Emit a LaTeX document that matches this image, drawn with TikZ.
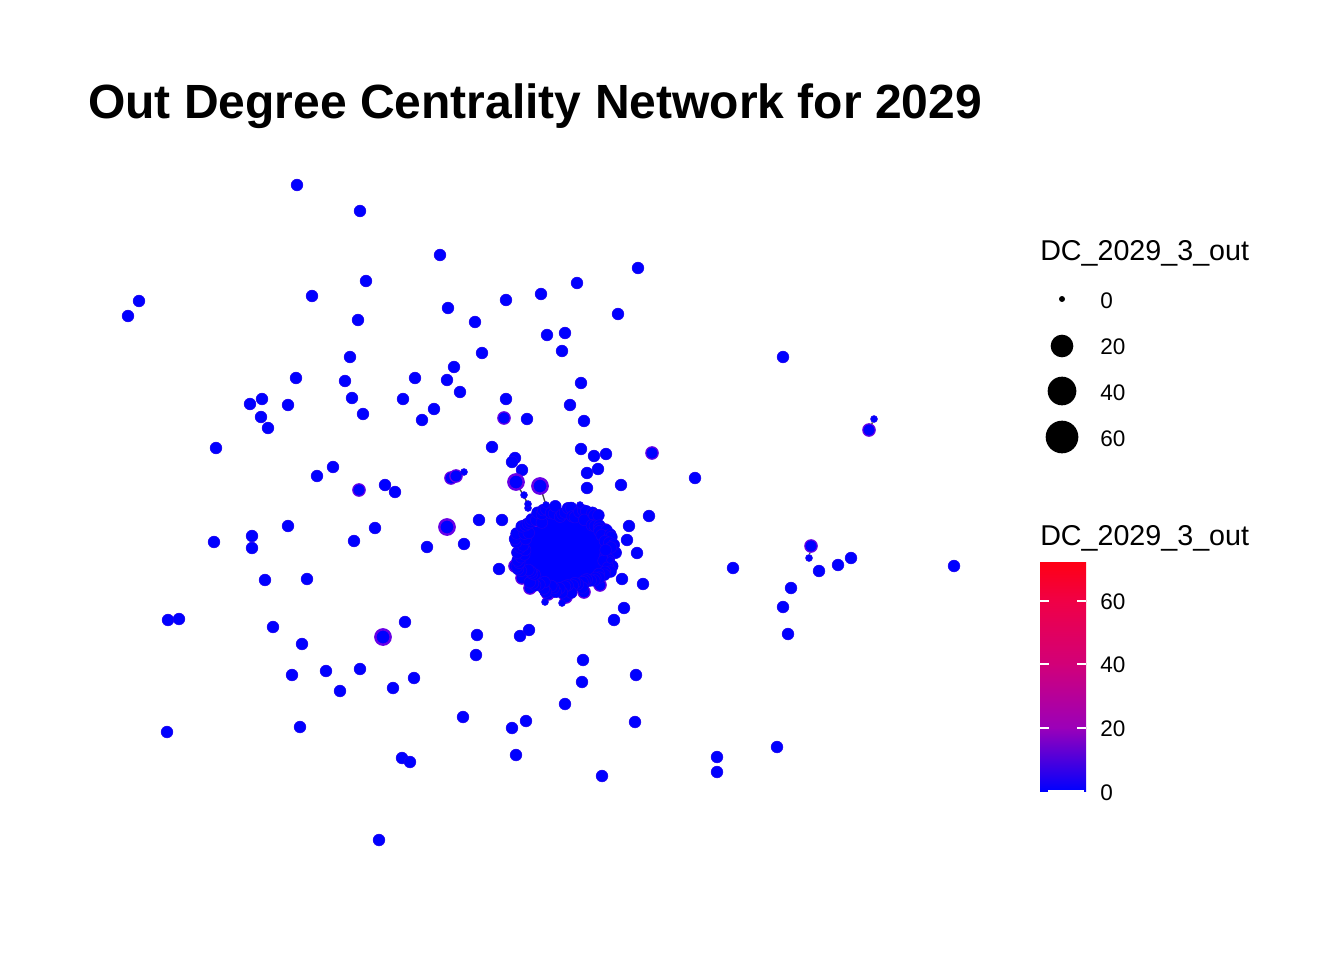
\documentclass[tikz,border=0pt]{standalone}
\usepackage{fontspec}
\setmainfont{Liberation Sans}
\begin{document}
\begin{tikzpicture}[x=0.75pt,y=-0.75pt]
\definecolor{nb}{RGB}{0,0,255}
\definecolor{nbe}{RGB}{30,0,240}
\definecolor{np}{RGB}{105,0,230}
\definecolor{edgec}{RGB}{70,70,70}
\tikzset{
  nd/.style={circle,fill=nb,draw=nbe,line width=0.4pt,inner sep=0pt,minimum size=8.8pt},
  ndt/.style={nd,draw=np,line width=0.9pt,minimum size=9.3pt},
  ndp/.style={nd,draw=np,line width=1.8pt,minimum size=11.5pt},
  nds/.style={nd,minimum size=5.2pt},
  lnk/.style={draw=edgec,line width=1pt},
  lgd/.style={circle,fill=black,inner sep=0pt},
  lbl/.style={anchor=base west,font=\fontsize{16.9pt}{18pt}\selectfont,inner sep=0pt},
  ttl/.style={anchor=base west,font=\fontsize{21.5pt}{24pt}\selectfont,inner sep=0pt},
  tick/.style={draw=white,line width=0.8pt}
}
\useasboundingbox (0,0) rectangle (1344,960);
\fill[white] (0,0) rectangle (1344,960);

% title
\node[anchor=base west,font=\fontsize{36pt}{40pt}\selectfont\bfseries,inner sep=0pt] (title) at (88,118) {Out Degree Centrality Network for 2029};

% edges (drawn under nodes)
\coordinate (c1) at (528,504);
\coordinate (c2) at (546,505);
\coordinate (p1) at (516,482);
\coordinate (p2) at (540,486);
\draw[lnk] (p1) -- (c1);
\draw[lnk] (p2) -- (c2);

% central cluster
\fill[nb] (565,550) ellipse [x radius=50, y radius=42];
\pgfmathsetseed{7}
\foreach \x/\y [count=\i] in {530/588,548/594,566/597,522/578,584/592,515/566,600/585,536/520,590/516,605/530}
  \node[ndt] (kp\i) at (\x,\y) {};
\foreach \i in {1,...,100}{
  \pgfmathsetmacro\a{\i*3.6}
  \pgfmathsetmacro\r{0.78+0.27*rnd}
  \node[nd] (k\i) at ({565+50*\r*cos(\a)},{550+43*\r*sin(\a)}) {};
}
\foreach \x/\y [count=\i] in {545/602,562/603,528/508,580/505,610/560}
  \node[nds] (ks\i) at (\x,\y) {};
\node[nds] (kc1) at (c1) {};
\node[nds] (kc2) at (c2) {};

% blue nodes
\foreach \x/\y [count=\i] in {
297/185,360/211,440/255,638/268,577/283,541/294,506/300,366/281,312/296,448/308,
475/322,618/314,358/320,547/335,565/333,562/351,482/353,350/357,783/357,139/301,
128/316,296/378,345/381,415/378,454/367,447/380,460/392,403/399,352/398,581/383,
506/399,570/405,262/399,250/404,288/405,261/417,268/428,363/414,434/409,422/420,
527/419,584/421,216/448,492/447,581/449,606/454,594/456,515/458,598/469,587/473,
333/467,317/476,695/478,385/485,395/492,587/488,621/485,649/516,288/526,375/528,
479/520,502/520,629/526,252/536,214/542,354/541,252/548,427/547,464/544,627/540,
637/553,499/569,265/580,307/579,733/568,622/579,643/584,851/558,838/565,
819/571,954/566,791/588,168/620,179/619,273/627,405/622,302/644,477/635,476/655,
520/636,529/630,614/620,624/608,783/607,788/634,292/675,326/671,360/669,340/691,
393/688,414/678,583/660,582/682,636/675,565/704,463/717,512/728,526/721,635/722,
167/732,300/727,402/758,410/762,516/755,602/776,717/757,717/772,777/747,379/840,
512/462,522/470}
  \node[nd] (b\i) at (\x,\y) {};

% tinted nodes
\foreach \x/\y [count=\i] in {504/418,359/490,652/453,451/478,456/476}
  \node[ndt] (t\i) at (\x,\y) {};
\node[ndt] (m1) at (869,430) {};
\node[ndt] (m2) at (811,546) {};

% purple-ringed nodes
\node[ndp] (q1) at (447,527) {};
\node[ndp] (q2) at (383,637) {};
\node[ndp] (q3) at (p1) {};
\node[ndp] (q4) at (p2) {};

% small nodes with links
\node[nds] (s1) at (874,419) {};
\node[nds] (s2) at (809,558) {};
\node[nds] (s3) at (464,472) {};
\node[nds] (s4) at (524,495) {};
\draw[lnk] (s1) -- (m1);
\draw[lnk] (s2) -- (m2);

% size legend
\node[ttl] (lt1) at (1040,260) {DC\_2029\_3\_out};
\node[lgd,minimum size=4.5pt] (l0) at (1062,299) {};
\node[lgd,minimum size=17pt] (l20) at (1062,346) {};
\node[lgd,minimum size=21.5pt] (l40) at (1062,391) {};
\node[lgd,minimum size=24.5pt] (l60) at (1062,437) {};
\node[lbl] (lb0) at (1100,308) {0};
\node[lbl] (lb20) at (1100,354) {20};
\node[lbl] (lb40) at (1100,400) {40};
\node[lbl] (lb60) at (1100,446) {60};

% colour legend
\node[ttl] (lt2) at (1040,545) {DC\_2029\_3\_out};
\definecolor{g0}{RGB}{0,0,255}
\definecolor{g20}{RGB}{155,0,185}
\definecolor{g40}{RGB}{210,0,120}
\definecolor{g60}{RGB}{240,0,70}
\definecolor{g72}{RGB}{255,0,20}
\shade[bottom color=g0,top color=g20] (1040,791) rectangle (1086,727.5);
\shade[bottom color=g20,top color=g40] (1040,728) rectangle (1086,663.5);
\shade[bottom color=g40,top color=g60] (1040,664) rectangle (1086,600.5);
\shade[bottom color=g60,top color=g72] (1040,601) rectangle (1086,562);
\foreach \yy in {601,664,728}{
  \draw[tick] (1040,\yy) -- (1049,\yy);
  \draw[tick] (1077,\yy) -- (1086,\yy);
}
\draw[tick] (1048,791) -- (1084,791);
\node[lbl] (cb60) at (1100,609) {60};
\node[lbl] (cb40) at (1100,672) {40};
\node[lbl] (cb20) at (1100,736) {20};
\node[lbl] (cb0) at (1100,800) {0};
\end{tikzpicture}
\end{document}
